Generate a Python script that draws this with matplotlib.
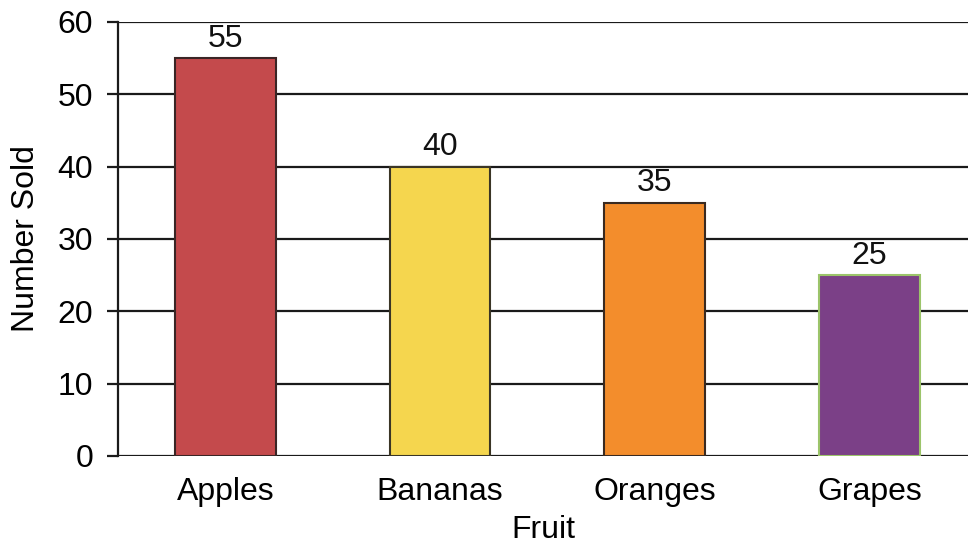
import matplotlib
matplotlib.use("Agg")
from matplotlib import pyplot as plt

# Data
fruits = ["Apples", "Bananas", "Oranges", "Grapes"]
sold = [55, 40, 35, 25]
colors = ["#c44a4c", "#f5d64e", "#f38d2c", "#7b4087"]
edges = ["#3a2525", "#3a3525", "#3a2a20", "#9cc46a"]
yticks = [0, 10, 20, 30, 40, 50, 60]

plt.rcParams['font.family'] = ['Liberation Sans', 'DejaVu Sans']

fig = plt.figure(figsize=(9.68, 5.48), dpi=100)
ax = fig.add_axes([0.122, 0.168, 0.878, 0.792])

x = range(len(fruits))
bars = ax.bar(x, sold, width=0.47, color=colors, edgecolor=edges, linewidth=1.5, zorder=3)

# value labels above bars
for b, v in zip(bars, sold):
    ax.text(b.get_x() + b.get_width() / 2, v + 0.6, str(v), ha='center', va='bottom',
            fontsize=23, color='#111111', zorder=4)

ax.set_ylim(0, 60)
ax.set_xlim(-0.5, 3.46)
ax.set_yticks(yticks)
ax.set_xticks(list(x))
ax.set_xticklabels(fruits)
ax.yaxis.grid(True, color='#1a1a1a', linewidth=1.6, zorder=0)
ax.set_axisbelow(True)

for s in ['top', 'right', 'bottom']:
    ax.spines[s].set_visible(False)
ax.spines['left'].set_linewidth(1.6)
ax.spines['left'].set_color('#1a1a1a')

ax.tick_params(axis='y', length=8, width=1.6, color='#1a1a1a', labelsize=23, pad=10)
ax.tick_params(axis='x', length=0, labelsize=23, pad=15)

ax.set_ylabel("Number Sold", fontsize=23, labelpad=12)
ax.set_xlabel("Fruit", fontsize=23, labelpad=6)

fig.savefig("out.png", dpi=100)
